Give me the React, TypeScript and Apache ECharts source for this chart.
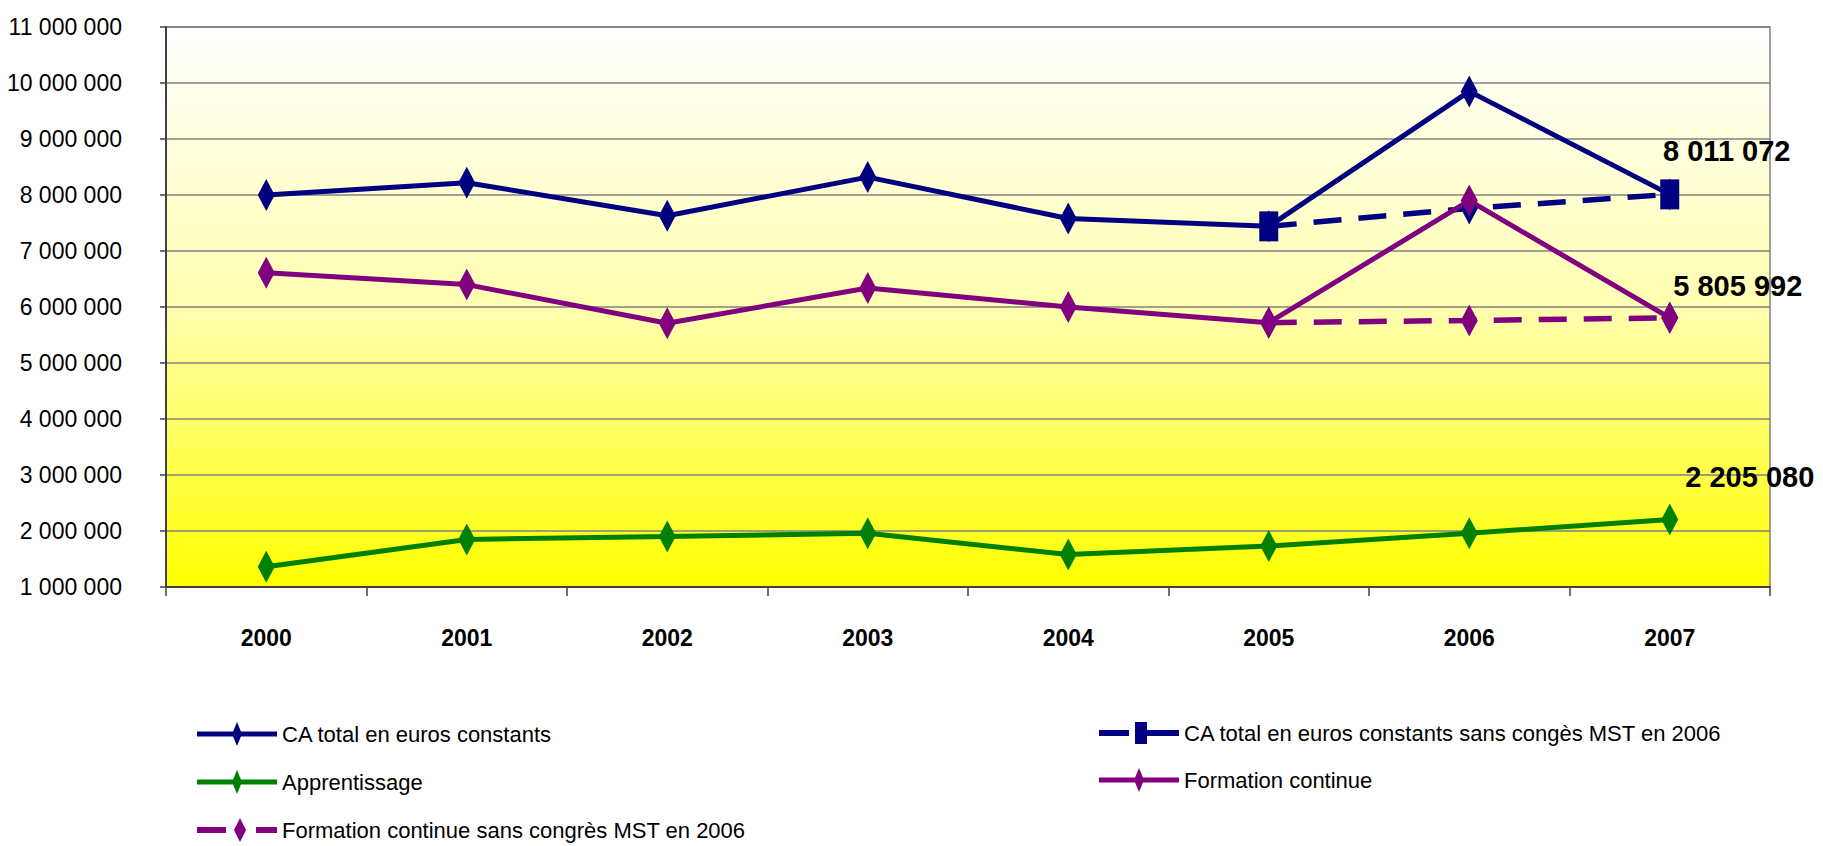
import React, { useEffect, useRef } from "react";
import * as echarts from "echarts";

const years = ["2000", "2001", "2002", "2003", "2004", "2005", "2006", "2007"];
const caTotal = [8000000, 8220000, 7630000, 8320000, 7580000, 7440000, 9850000, 8011072];
const caSansConges = [null, null, null, null, null, 7440000, 7760000, 8011072];
const apprentissage = [1360000, 1850000, 1900000, 1960000, 1580000, 1730000, 1960000, 2205080];
const formationContinue = [6610000, 6400000, 5710000, 6340000, 6000000, 5720000, 7900000, 5805992];
const fcSansCongres = [null, null, null, null, null, 5720000, 5760000, 5805992];

const names = [
  "CA total en euros constants",
  "CA total en euros constants sans congès MST en 2006",
  "Apprentissage",
  "Formation continue",
  "Formation continue sans congrès MST en 2006",
];

const FONT = "'Liberation Sans', Arial, sans-serif";
const NAVY = "#000080";
const GREEN = "#008000";
const PURPLE = "#800080";

const fmt = (v: number) => String(Math.round(v)).replace(/\B(?=(\d{3})+(?!\d))/g, " ");

const ICON_SOLID = "path://M0 9.5L80 9.5L80 14.5L0 14.5Z M40 0L45 12L40 24L35 12Z";
const ICON_NAVY_DASH = "path://M0 9L30 9L30 15L0 15Z M36 1L48 1L48 23L36 23Z M48 9L80 9L80 15L48 15Z";
const ICON_PURPLE_DASH = "path://M0 9L29 9L29 15L0 15Z M43 0L49 12L43 24L37 12Z M59 9L80 9L80 15L59 15Z";

export default function App() {
  const ref = useRef<HTMLDivElement>(null);
  useEffect(() => {
    document.body.style.margin = "0";
    if (!ref.current) return;
    const chart = echarts.init(ref.current, null, { renderer: "svg" });
    const lastLabel = (dx: number, dy: number) => ({
      show: true,
      position: "inside",
      offset: [dx, dy],
      formatter: (p: any) => (p.dataIndex === 7 ? fmt(p.value) : ""),
      fontFamily: FONT,
      fontWeight: "bold",
      fontSize: 29,
      color: "#000",
    });
    const legendText = { fontFamily: FONT, fontSize: 22, color: "#000" };
    chart.setOption({
      animation: false,
      backgroundColor: "#fff",
      grid: {
        left: 166,
        right: 53,
        top: 27,
        bottom: 259,
        outerBoundsMode: "none",
        containLabel: false,
        show: true,
        borderColor: "#808080",
        borderWidth: 1.5,
        backgroundColor: new echarts.graphic.LinearGradient(0, 0, 0, 1, [
          { offset: 0, color: "#ffffff" },
          { offset: 0.5, color: "#ffffb0" },
          { offset: 1, color: "#ffff00" },
        ]),
      },
      legend: [
        {
          data: [
            { name: names[0], icon: ICON_SOLID },
            { name: names[2], icon: ICON_SOLID },
            { name: names[4], icon: ICON_PURPLE_DASH },
          ],
          orient: "vertical",
          left: 197,
          top: 722,
          padding: 0,
          itemWidth: 80,
          itemHeight: 24,
          itemGap: 24,
          textStyle: legendText,
          selectedMode: false,
        },
        {
          data: [
            { name: names[1], icon: ICON_NAVY_DASH },
            { name: names[3], icon: ICON_SOLID },
          ],
          orient: "vertical",
          left: 1099,
          top: 722,
          padding: 0,
          itemWidth: 80,
          itemHeight: 24,
          itemGap: 24,
          textStyle: legendText,
          selectedMode: false,
        },
      ],
      xAxis: {
        type: "category",
        data: years,
        boundaryGap: true,
        axisLine: { show: true, lineStyle: { color: "#404040", width: 2 } },
        axisTick: { show: true, length: 9, lineStyle: { color: "#404040", width: 1.5 } },
        axisLabel: {
          margin: 39,
          fontFamily: FONT,
          fontWeight: "bold",
          fontSize: 23,
          color: "#000",
        },
        splitLine: { show: false },
      },
      yAxis: {
        type: "value",
        min: 1000000,
        max: 11000000,
        interval: 1000000,
        axisLine: { show: true, lineStyle: { color: "#404040", width: 2 } },
        axisTick: { show: true, length: 6, lineStyle: { color: "#404040", width: 1.5 } },
        axisLabel: {
          margin: 44,
          formatter: (v: number) => fmt(v),
          fontFamily: FONT,
          fontSize: 23,
          color: "#000",
        },
        splitLine: { show: true, lineStyle: { color: "#808080", width: 1.5 } },
      },
      series: [
        {
          name: names[0],
          type: "line",
          data: caTotal,
          symbol: "diamond",
          symbolSize: [17, 32],
          itemStyle: { color: NAVY },
          lineStyle: { color: NAVY, width: 5 },
        },
        {
          name: names[1],
          type: "line",
          data: caSansConges.map((v, i) => (i === 6 ? { value: v, symbol: "diamond", symbolSize: [17, 32] } : v)),
          symbol: "rect",
          symbolSize: [19, 30],
          itemStyle: { color: NAVY },
          lineStyle: { color: NAVY, width: 5.5, type: [28, 17] },
          label: lastLabel(57, -43),
        },
        {
          name: names[2],
          type: "line",
          data: apprentissage,
          symbol: "diamond",
          symbolSize: [17, 32],
          itemStyle: { color: GREEN },
          lineStyle: { color: GREEN, width: 5 },
          label: lastLabel(80, -43),
        },
        {
          name: names[3],
          type: "line",
          data: formationContinue,
          symbol: "diamond",
          symbolSize: [17, 32],
          itemStyle: { color: PURPLE },
          lineStyle: { color: PURPLE, width: 5 },
          label: lastLabel(68, -32),
        },
        {
          name: names[4],
          type: "line",
          data: fcSansCongres,
          symbol: "diamond",
          symbolSize: [17, 32],
          itemStyle: { color: PURPLE },
          lineStyle: { color: PURPLE, width: 5.5, type: [28, 17] },
        },
      ],
    });
    return () => chart.dispose();
  }, []);
  return <div ref={ref} style={{ width: 1823, height: 846 }} />;
}
